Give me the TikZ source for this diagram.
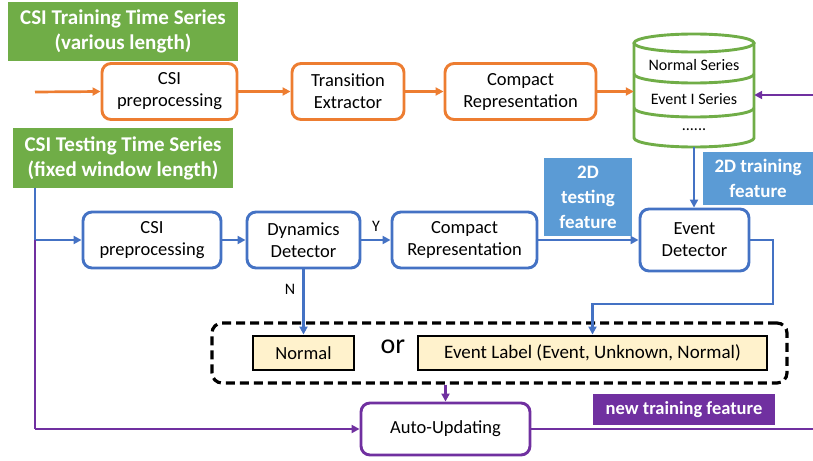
\documentclass[tikz,border=0pt]{standalone}
\usepackage{fontspec}
\setmainfont{Carlito}
\usetikzlibrary{arrows.meta}
\definecolor{corange}{HTML}{ED7D31}
\definecolor{cgreen}{HTML}{70AD47}
\definecolor{cblue}{HTML}{4472C4}
\definecolor{cbluefill}{HTML}{5B9BD5}
\definecolor{cpurple}{HTML}{7030A0}
\definecolor{cyellow}{HTML}{FFF2CC}
\begin{document}
\begin{tikzpicture}[x=1pt,y=-1pt,
  font=\fontsize{18.5}{22}\selectfont,
  box/.style={draw, rounded corners=9pt, line width=2.9pt, align=center, fill=white, inner sep=0pt},
  obox/.style={box, draw=corange},
  bbox/.style={box, draw=cblue},
  pbox/.style={box, draw=cpurple},
  titlebox/.style={fill=cgreen, text=white, font=\fontsize{21}{25}\selectfont\bfseries, align=center, inner sep=0pt},
  tagbox/.style={fill=cbluefill, text=white, font=\fontsize{19}{25}\selectfont\bfseries, align=center, inner sep=0pt},
  lblbox/.style={draw=black, fill=cyellow, line width=2.9pt, inner sep=0pt},
  arr/.style={line width=2.7pt, -{Triangle[length=8pt,width=8pt]}},
  plain/.style={line width=2.7pt},
  small/.style={font=\fontsize{16}{19}\selectfont, inner sep=0pt, text=black}
]
\useasboundingbox (0,0) rectangle (813,460);

% titles
\node[titlebox, minimum width=230pt, minimum height=59pt] (g1) at (123,31.5) {CSI Training Time Series\\(various length)};
\node[titlebox, minimum width=220pt, minimum height=60pt] (g2) at (123,158) {CSI Testing Time Series\\(fixed window length)};

% training row
\node[obox, minimum width=135pt, minimum height=56pt] (pre1) at (169.5,91.5) {CSI\\preprocessing};
\node[obox, minimum width=112pt, minimum height=56pt] (tr) at (348,91.5) {Transition\\Extractor};
\node[obox, minimum width=151pt, minimum height=56pt] (cr1) at (520.5,91.5) {Compact\\Representation};

% database cylinder
\node[minimum width=120pt, minimum height=114pt, inner sep=0pt] (db) at (694,90) {};
\draw[cgreen, line width=2.9pt, fill=white] (634,43) -- (634,138) arc[start angle=180, end angle=0, x radius=60, y radius=9] -- (754,43);
\draw[cgreen, line width=2.9pt, fill=white] (694,43) ellipse[x radius=60, y radius=9];
\draw[cgreen, line width=2.9pt] (634,74) arc[start angle=180, end angle=0, x radius=60, y radius=9];
\draw[cgreen, line width=2.9pt] (634,108) arc[start angle=180, end angle=0, x radius=60, y radius=9];
\node[small] (s1) at (694,65) {Normal Series};
\node[small] (s2) at (694,99) {Event I Series};
\node[small] (s3) at (694,130) {......};

% testing row
\node[bbox, minimum width=138pt, minimum height=56pt] (pre2) at (152,240) {CSI\\preprocessing};
\node[bbox, minimum width=113pt, minimum height=56pt] (dyn) at (303.5,240) {Dynamics\\Detector};
\node[bbox, minimum width=145pt, minimum height=56pt] (cr2) at (464.5,240) {Compact\\Representation};
\node[bbox, minimum width=109pt, minimum height=62pt] (ed) at (694.5,240) {Event\\Detector};
\node[tagbox, minimum width=88pt, minimum height=78pt] (t1) at (588,197) {2D\\testing\\feature};
\node[tagbox, minimum width=110pt, minimum height=53pt] (t2) at (758,178.5) {2D training\\feature};

% results
\node[draw=black, line width=3.2pt, dash pattern=on 9pt off 5pt, rounded corners=10pt, minimum width=575pt, minimum height=60pt, inner sep=0pt] (dash) at (499.5,353) {};
\node[lblbox, minimum width=101pt, minimum height=34pt] (nrm) at (303.5,353) {Normal};
\node[lblbox, minimum width=349pt, minimum height=34pt, font=\fontsize{19}{22}\selectfont] (evl) at (592.5,353) {Event Label (Event, Unknown, Normal)};
\node[font=\fontsize{28}{30}\selectfont, inner sep=0pt] (or) at (393,347) {or};
\node[pbox, minimum width=169pt, minimum height=52pt] (auto) at (445.5,429) {Auto-Updating};
\node[fill=cpurple, text=white, font=\fontsize{18.5}{22}\selectfont\bfseries, minimum width=182pt, minimum height=31pt, inner sep=0pt] (ntf) at (684,409.5) {new training feature};

% connectors: training
\coordinate (oin) at (35,92);
\draw[arr, corange] (oin) -- (pre1.west);
\draw[arr, corange] (pre1.east) -- (tr.west);
\draw[arr, corange] (tr.east) -- (cr1.west);
\draw[arr, corange] (cr1.east) -- (cr1.east -| db.west);
\coordinate (pin) at (813,95);
\draw[arr, cpurple] (pin) -- (pin -| db.east);
\draw[arr, cblue] (db.south) -- (db.south |- ed.north);

% connectors: testing
\coordinate (tj) at (35,240);
\draw[plain, cblue] (g2.south -| tj) -- (tj);
\draw[arr, cblue] (tj) -- (pre2.west);
\draw[arr, cblue] (pre2.east) -- (dyn.west);
\draw[arr, cblue] (dyn.east) -- node[small, above=7pt, pos=0.5] (ylab) {Y} (cr2.west);
\draw[arr, cblue] (cr2.east) -- (ed.west);
\draw[arr, cblue] (dyn.south) -- node[small, left=7pt, pos=0.3] (nlab) {N} (nrm.north);
\coordinate (c1) at (773,304);
\draw[arr, cblue] (ed.east) -| (c1) -| (evl.north);

% connectors: updating
\coordinate (pj) at (35,429);
\draw[plain, cpurple] (tj) -- (pj);
\draw[arr, cpurple] (pj) -- (auto.west);
\draw[arr, cpurple] (dash.south -| auto.north) -- (auto.north);
\coordinate (pout) at (813,429);
\draw[plain, cpurple] (auto.east) -- (pout);
\end{tikzpicture}
\end{document}
